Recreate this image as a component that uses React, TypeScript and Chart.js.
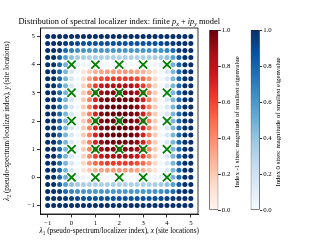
import React, { useEffect, useRef } from "react";
import { Chart, registerables } from "chart.js";
Chart.register(...registerables);

// ---------------- data ----------------
const gridX = [-1, -0.75, -0.5, -0.25, 0, 0.25, 0.5, 0.75, 1, 1.25, 1.5, 1.75, 2, 2.25, 2.5, 2.75, 3, 3.25, 3.5, 3.75, 4, 4.25, 4.5, 4.75, 5];
const gridY = [5, 4.75, 4.5, 4.25, 4, 3.75, 3.5, 3.25, 3, 2.75, 2.5, 2.25, 2, 1.75, 1.5, 1.25, 1, 0.75, 0.5, 0.25, 0, -0.25, -0.5, -0.75, -1];
const siteX = [0, 1, 2, 3, 4];
const siteY = [0, 1, 2, 3, 4];
const xTicks = [-1, 0, 1, 2, 3, 4, 5];
const yTicks = [-1, 0, 1, 2, 3, 4, 5];
const colorbarTicks = [0, 0.2, 0.4, 0.6, 0.8, 1.0];

// magnitude of smallest eigenvalue per grid point (rows follow gridY, columns gridX).
// positive -> index 0 site (Blues), negative -> index -1 site (Reds, magnitude = |value|)
const smallestEigenvalue = [
  [1, 1, 1, 1, 1, 1, 1, 1, 1, 1, 1, 1, 1, 1, 1, 1, 1, 1, 1, 1, 1, 1, 1, 1, 1],
  [1, 1, 1, 0.97, 0.93, 0.9, 0.88, 0.87, 0.87, 0.87, 0.87, 0.87, 0.87, 0.87, 0.87, 0.87, 0.87, 0.87, 0.88, 0.9, 0.93, 0.97, 1, 1, 1],
  [1, 1, 0.95, 0.78, 0.68, 0.63, 0.61, 0.6, 0.6, 0.6, 0.6, 0.6, 0.6, 0.6, 0.6, 0.6, 0.6, 0.6, 0.61, 0.63, 0.68, 0.78, 0.95, 1, 1],
  [1, 1, 0.82, 0.56, 0.42, 0.36, 0.34, 0.33, 0.33, 0.33, 0.33, 0.33, 0.33, 0.33, 0.33, 0.33, 0.33, 0.33, 0.34, 0.36, 0.42, 0.56, 0.82, 1, 1],
  [1, 1, 0.78, 0.48, 0.18, 0.1, 0.05, 0.03, 0.04, 0.03, 0.02, 0.03, 0.04, 0.03, 0.02, 0.03, 0.04, 0.03, 0.05, 0.1, 0.18, 0.48, 0.78, 1, 1],
  [1, 1, 0.78, 0.46, 0.16, 0.03, -0.1, -0.2, -0.28, -0.32, -0.34, -0.35, -0.35, -0.35, -0.34, -0.32, -0.28, -0.2, -0.1, 0.03, 0.16, 0.46, 0.78, 1, 1],
  [1, 1, 0.78, 0.46, 0.16, 0.03, -0.15, -0.35, -0.5, -0.58, -0.62, -0.63, -0.63, -0.63, -0.62, -0.58, -0.5, -0.35, -0.15, 0.03, 0.16, 0.46, 0.78, 1, 1],
  [1, 1, 0.78, 0.46, 0.16, 0.03, -0.18, -0.4, -0.62, -0.75, -0.82, -0.85, -0.85, -0.85, -0.82, -0.75, -0.62, -0.4, -0.18, 0.03, 0.16, 0.46, 0.78, 1, 1],
  [1, 1, 0.78, 0.46, 0.16, 0.03, -0.2, -0.42, -0.7, -0.88, -0.93, -0.95, -0.95, -0.95, -0.93, -0.88, -0.7, -0.42, -0.2, 0.03, 0.16, 0.46, 0.78, 1, 1],
  [1, 1, 0.78, 0.46, 0.16, 0.03, -0.2, -0.43, -0.72, -0.92, -0.97, -0.98, -0.98, -0.98, -0.97, -0.92, -0.72, -0.43, -0.2, 0.03, 0.16, 0.46, 0.78, 1, 1],
  [1, 1, 0.78, 0.46, 0.16, 0.03, -0.2, -0.43, -0.72, -0.93, -0.98, -1, -1, -1, -0.98, -0.93, -0.72, -0.43, -0.2, 0.03, 0.16, 0.46, 0.78, 1, 1],
  [1, 1, 0.78, 0.46, 0.16, 0.03, -0.2, -0.43, -0.72, -0.93, -0.98, -1, -1, -1, -0.98, -0.93, -0.72, -0.43, -0.2, 0.03, 0.16, 0.46, 0.78, 1, 1],
  [1, 1, 0.78, 0.46, 0.16, 0.03, -0.2, -0.43, -0.72, -0.93, -0.98, -1, -1, -1, -0.98, -0.93, -0.72, -0.43, -0.2, 0.03, 0.16, 0.46, 0.78, 1, 1],
  [1, 1, 0.78, 0.46, 0.16, 0.03, -0.2, -0.43, -0.72, -0.93, -0.98, -1, -1, -1, -0.98, -0.93, -0.72, -0.43, -0.2, 0.03, 0.16, 0.46, 0.78, 1, 1],
  [1, 1, 0.78, 0.46, 0.16, 0.03, -0.2, -0.43, -0.72, -0.93, -0.98, -1, -1, -1, -0.98, -0.93, -0.72, -0.43, -0.2, 0.03, 0.16, 0.46, 0.78, 1, 1],
  [1, 1, 0.78, 0.46, 0.16, 0.03, -0.2, -0.43, -0.72, -0.92, -0.97, -0.98, -0.98, -0.98, -0.97, -0.92, -0.72, -0.43, -0.2, 0.03, 0.16, 0.46, 0.78, 1, 1],
  [1, 1, 0.78, 0.46, 0.16, 0.03, -0.2, -0.42, -0.7, -0.88, -0.93, -0.95, -0.95, -0.95, -0.93, -0.88, -0.7, -0.42, -0.2, 0.03, 0.16, 0.46, 0.78, 1, 1],
  [1, 1, 0.78, 0.46, 0.16, 0.03, -0.18, -0.4, -0.62, -0.75, -0.82, -0.85, -0.85, -0.85, -0.82, -0.75, -0.62, -0.4, -0.18, 0.03, 0.16, 0.46, 0.78, 1, 1],
  [1, 1, 0.78, 0.46, 0.16, 0.03, -0.15, -0.35, -0.5, -0.58, -0.62, -0.63, -0.63, -0.63, -0.62, -0.58, -0.5, -0.35, -0.15, 0.03, 0.16, 0.46, 0.78, 1, 1],
  [1, 1, 0.78, 0.46, 0.16, 0.03, -0.1, -0.2, -0.28, -0.32, -0.34, -0.35, -0.35, -0.35, -0.34, -0.32, -0.28, -0.2, -0.1, 0.03, 0.16, 0.46, 0.78, 1, 1],
  [1, 1, 0.78, 0.48, 0.18, 0.1, 0.05, 0.03, 0.04, 0.03, 0.02, 0.03, 0.04, 0.03, 0.02, 0.03, 0.04, 0.03, 0.05, 0.1, 0.18, 0.48, 0.78, 1, 1],
  [1, 1, 0.82, 0.56, 0.42, 0.36, 0.34, 0.33, 0.33, 0.33, 0.33, 0.33, 0.33, 0.33, 0.33, 0.33, 0.33, 0.33, 0.34, 0.36, 0.42, 0.56, 0.82, 1, 1],
  [1, 1, 0.95, 0.78, 0.68, 0.63, 0.61, 0.6, 0.6, 0.6, 0.6, 0.6, 0.6, 0.6, 0.6, 0.6, 0.6, 0.6, 0.61, 0.63, 0.68, 0.78, 0.95, 1, 1],
  [1, 1, 1, 0.97, 0.93, 0.9, 0.88, 0.87, 0.87, 0.87, 0.87, 0.87, 0.87, 0.87, 0.87, 0.87, 0.87, 0.87, 0.88, 0.9, 0.93, 0.97, 1, 1, 1],
  [1, 1, 1, 1, 1, 1, 1, 1, 1, 1, 1, 1, 1, 1, 1, 1, 1, 1, 1, 1, 1, 1, 1, 1, 1],
];

const titleText = "Distribution of spectral localizer index: finite ";
const xLabelText = " (pseudo-spectrum/localizer index), ";
const siteLocText = " (site locations)";
const cbLabelRed = "Index -1 sites: magnitude of smallest eigenvalue";
const cbLabelBlue = "Index 0 sites: magnitude of smallest eigenvalue";

// ---------------- styling ----------------
const BLUES = ["#f7fbff", "#deebf7", "#c6dbef", "#9ecae1", "#6baed6", "#4292c6", "#2171b5", "#08519c", "#08306b"];
const REDS = ["#fff5f0", "#fee0d2", "#fcbba1", "#fc9272", "#fb6a4a", "#ef3b2c", "#cb181d", "#a50f15", "#67000d"];
const FAMILY = '"Liberation Serif", "DejaVu Serif", serif';
const W = 320;
const H = 241;

function hexToRgb(h: string) {
  const n = parseInt(h.slice(1), 16);
  return [(n >> 16) & 255, (n >> 8) & 255, n & 255];
}
function cmap(stops: string[], v: number) {
  const t = Math.max(0, Math.min(1, v));
  const p = t * (stops.length - 1);
  const k = Math.min(stops.length - 2, Math.floor(p));
  const f = p - k;
  const a = hexToRgb(stops[k]);
  const b = hexToRgb(stops[k + 1]);
  const c = a.map((x, i) => Math.round(x + (b[i] - x) * f));
  return `rgb(${c[0]},${c[1]},${c[2]})`;
}
const fmtTick = (v: number) => (v < 0 ? "\u2212" + Math.abs(v) : String(v));

type Piece = { t: string; it?: boolean; sub?: boolean };
function drawRich(ctx: CanvasRenderingContext2D, pieces: Piece[], cx: number, cy: number, size: number, rot: number) {
  ctx.save();
  ctx.translate(cx, cy);
  ctx.rotate(rot);
  const fontFor = (p: Piece) => `${p.it ? "italic " : ""}${p.sub ? size * 0.72 : size}px ${FAMILY}`;
  let total = 0;
  const widths = pieces.map((p) => {
    ctx.font = fontFor(p);
    const w = ctx.measureText(p.t).width;
    total += w;
    return w;
  });
  let x = -total / 2;
  ctx.textBaseline = "alphabetic";
  ctx.textAlign = "left";
  ctx.fillStyle = "#000";
  pieces.forEach((p, k) => {
    ctx.font = fontFor(p);
    ctx.fillText(p.t, x, p.sub ? size * 0.28 : 0);
    x += widths[k];
  });
  ctx.restore();
}

function MainChart() {
  const ref = useRef<HTMLCanvasElement>(null);
  useEffect(() => {
    const blue: { x: number; y: number }[] = [];
    const blueC: string[] = [];
    const red: { x: number; y: number }[] = [];
    const redC: string[] = [];
    gridY.forEach((y, r) =>
      gridX.forEach((x, c) => {
        const v = smallestEigenvalue[r][c];
        if (v < 0) {
          red.push({ x, y });
          redC.push(cmap(REDS, -v));
        } else {
          blue.push({ x, y });
          blueC.push(cmap(BLUES, v));
        }
      })
    );
    const sites: { x: number; y: number }[] = [];
    siteY.forEach((y) => siteX.forEach((x) => sites.push({ x, y })));

    const tickFont = { family: FAMILY, size: 6.8 };
    const decor = {
      id: "decor",
      afterDatasetsDraw(chart: any) {
        const { ctx, chartArea: a } = chart;
        ctx.save();
        ctx.strokeStyle = "#000";
        ctx.lineWidth = 0.8;
        ctx.strokeRect(a.left, a.top, a.right - a.left, a.bottom - a.top);
        ctx.restore();
      },
      afterDraw(chart: any) {
        const ctx = chart.ctx as CanvasRenderingContext2D;
        const a = chart.chartArea;
        const cx = (a.left + a.right) / 2;
        const cy = (a.top + a.bottom) / 2;
        drawRich(ctx, [
          { t: titleText }, { t: "p", it: true }, { t: "x", it: true, sub: true },
          { t: " + " }, { t: "ip", it: true }, { t: "y", it: true, sub: true }, { t: " model" },
        ], cx, 23.5, 8.4, 0);
        drawRich(ctx, [
          { t: "\u03bb", it: true }, { t: "1", sub: true }, { t: xLabelText }, { t: "x", it: true }, { t: siteLocText },
        ], cx, 233.3, 7.3, 0);
        drawRich(ctx, [
          { t: "\u03bb", it: true }, { t: "2", sub: true }, { t: xLabelText }, { t: "y", it: true }, { t: siteLocText },
        ], 8.6, cy, 7.3, -Math.PI / 2);
        drawRich(ctx, [{ t: cbLabelRed }], 238.5, 122, 6.8, -Math.PI / 2);
        drawRich(ctx, [{ t: cbLabelBlue }], 279.8, 122, 6.8, -Math.PI / 2);
      },
    };

    const chart = new Chart(ref.current!, {
      type: "scatter",
      data: {
        datasets: [
          { data: sites, pointStyle: "crossRot", pointRadius: 5.8, pointBorderColor: "#008000", pointBackgroundColor: "#008000", pointBorderWidth: 1.8 } as any,
          { data: red, pointBackgroundColor: redC, pointRadius: 2.5, pointBorderWidth: 0 } as any,
          { data: blue, pointBackgroundColor: blueC, pointRadius: 2.5, pointBorderWidth: 0 } as any,
        ],
      },
      options: {
        animation: false,
        responsive: false,
        events: [],
        layout: { padding: { left: 0, right: W - 198, top: 28, bottom: 0 } },
        plugins: { legend: { display: false }, tooltip: { enabled: false }, title: { display: false } },
        scales: {
          x: {
            type: "linear",
            position: "bottom",
            min: -1.3,
            max: 5.3,
            afterBuildTicks: (s: any) => { s.ticks = xTicks.map((v) => ({ value: v })); },
            afterFit: (s: any) => { s.height = H - 214; },
            grid: { display: true, drawOnChartArea: false, drawTicks: true, tickLength: 3.5, tickWidth: 0.8, tickColor: "#000" },
            border: { display: true, color: "#000", width: 0.8 },
            ticks: { font: tickFont, color: "#000", padding: 1.5, maxRotation: 0, autoSkip: false, callback: (v: any) => fmtTick(Number(v)) },
          },
          y: {
            type: "linear",
            position: "left",
            min: -1.3,
            max: 5.3,
            afterBuildTicks: (s: any) => { s.ticks = yTicks.map((v) => ({ value: v })); },
            afterFit: (s: any) => { s.width = 40.5; },
            grid: { display: true, drawOnChartArea: false, drawTicks: true, tickLength: 3.5, tickWidth: 0.8, tickColor: "#000" },
            border: { display: true, color: "#000", width: 0.8 },
            ticks: { font: tickFont, color: "#000", padding: 2, autoSkip: false, callback: (v: any) => fmtTick(Number(v)) },
          },
        },
      } as any,
      plugins: [decor],
    });
    return () => chart.destroy();
  }, []);
  return <canvas ref={ref} width={W} height={H} style={{ position: "absolute", left: 0, top: 0 }} />;
}

function ColorBar({ stops, left, barLeft, barRight }: { stops: string[]; left: number; barLeft: number; barRight: number }) {
  const ref = useRef<HTMLCanvasElement>(null);
  const CW = 40;
  useEffect(() => {
    const chart = new Chart(ref.current!, {
      type: "bar",
      data: {
        labels: [""],
        datasets: [
          {
            data: [[colorbarTicks[0], colorbarTicks[colorbarTicks.length - 1]]],
            backgroundColor: (c: any) => {
              const a = c.chart.chartArea;
              if (!a) return stops[4];
              const g = c.chart.ctx.createLinearGradient(0, a.bottom, 0, a.top);
              stops.forEach((s, k) => g.addColorStop(k / (stops.length - 1), s));
              return g;
            },
            borderColor: "#222",
            borderWidth: 0.8,
            borderSkipped: false,
            barPercentage: 1,
            categoryPercentage: 1,
          } as any,
        ],
      },
      options: {
        animation: false,
        responsive: false,
        events: [],
        layout: { padding: { left: barLeft - left, right: 0, top: 30, bottom: H - 210 } },
        plugins: { legend: { display: false }, tooltip: { enabled: false } },
        scales: {
          x: { display: false },
          y: {
            position: "right",
            min: 0,
            max: 1,
            afterBuildTicks: (s: any) => { s.ticks = colorbarTicks.map((v) => ({ value: v })); },
            afterFit: (s: any) => { s.width = CW - (barRight - left); },
            grid: { display: true, drawOnChartArea: false, drawTicks: true, tickLength: 2.5, tickWidth: 0.8, tickColor: "#000" },
            border: { display: false },
            ticks: { font: { family: FAMILY, size: 6.8 }, color: "#000", padding: 1, autoSkip: false, callback: (v: any) => Number(v).toFixed(1) },
          },
        },
      } as any,
    });
    return () => chart.destroy();
  }, []);
  return <canvas ref={ref} width={CW} height={H} style={{ position: "absolute", left, top: 0 }} />;
}

export default function App() {
  return (
    <div style={{ position: "fixed", left: 0, top: 0, width: W, height: H, background: "#fff", overflow: "hidden" }}>
      <MainChart />
      <ColorBar stops={REDS} left={200} barLeft={209.3} barRight={218.3} />
      <ColorBar stops={BLUES} left={242} barLeft={250.7} barRight={259.7} />
    </div>
  );
}
